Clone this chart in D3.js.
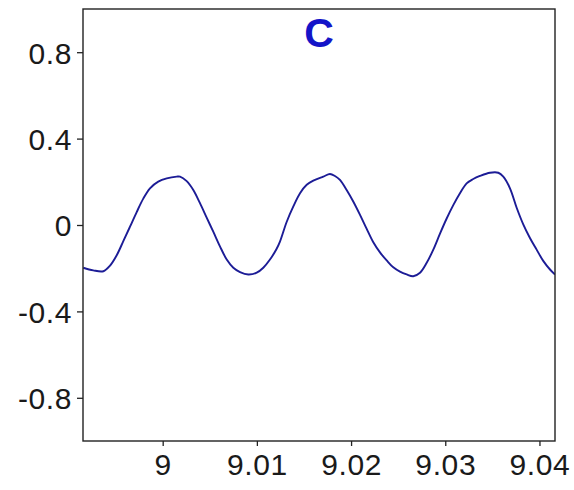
<!DOCTYPE html>
<html>
<head>
<meta charset="utf-8">
<script src="https://cdn.jsdelivr.net/npm/d3@7"></script>
<style>
  html, body { margin: 0; padding: 0; background: #fff; }
  svg { display: block; }
  text { font-family: "Liberation Sans", Arial, sans-serif; }
</style>
</head>
<body>
<svg id="chart" width="574" height="490"></svg>
<script>
// ---- data ----
const title = "C";
const xValues = [
  8.99157, 8.99263, 8.99370, 8.99441, 8.99512, 8.99582, 8.99653, 8.99724, 8.99794, 8.99865,
  8.99953, 9.00043, 9.00149, 9.00184, 9.00255, 9.00325, 9.00396, 9.00467, 9.00537, 9.00608,
  9.00680, 9.00750, 9.00821, 9.00909, 9.00998, 9.01068, 9.01139, 9.01210, 9.01245, 9.01316,
  9.01387, 9.01458, 9.01529, 9.01599, 9.01705, 9.01776, 9.01829, 9.01882, 9.01953, 9.02023,
  9.02095, 9.02166, 9.02236, 9.02307, 9.02378, 9.02448, 9.02519, 9.02590, 9.02660, 9.02732,
  9.02803, 9.02873, 9.02944, 9.03015, 9.03085, 9.03156, 9.03227, 9.03297, 9.03368, 9.03475,
  9.03563, 9.03616, 9.03687, 9.03758, 9.03828, 9.03899, 9.03970, 9.04040, 9.04112, 9.04165
];
const yValues = [
  -0.198, -0.210, -0.214, -0.188, -0.140, -0.075, -0.008, 0.060, 0.122, 0.170,
  0.201, 0.216, 0.224, 0.224, 0.203, 0.162, 0.101, 0.034, -0.031, -0.099,
  -0.160, -0.198, -0.218, -0.229, -0.221, -0.198, -0.160, -0.110, -0.077, 0.014,
  0.086, 0.147, 0.186, 0.205, 0.224, 0.236, 0.227, 0.209, 0.162, 0.109,
  0.047, -0.018, -0.080, -0.127, -0.164, -0.196, -0.216, -0.229, -0.237, -0.221,
  -0.175, -0.114, -0.040, 0.030, 0.092, 0.147, 0.193, 0.213, 0.227, 0.242,
  0.242, 0.224, 0.170, 0.080, 0.003, -0.060, -0.114, -0.166, -0.206, -0.229
];
const xTicks = [9, 9.01, 9.02, 9.03, 9.04];
const xTickLabels = ["9", "9.01", "9.02", "9.03", "9.04"];
const yTicks = [0.8, 0.4, 0, -0.4, -0.8];
const yTickLabels = ["0.8", "0.4", "0", "-0.4", "-0.8"];
const xDomain = [8.99154, 9.04165];
const yDomain = [-1, 1];

// ---- layout ----
const mLeft = 83, mRight = 555, mTop = 9, mBottom = 441;
const svg = d3.select("#chart");

const x = d3.scaleLinear().domain(xDomain).range([mLeft, mRight]);
const y = d3.scaleLinear().domain(yDomain).range([mBottom, mTop]);

const data = xValues.map((v, i) => ({ x: v, y: yValues[i] }));

// clip
svg.append("defs").append("clipPath").attr("id", "clip")
  .append("rect").attr("x", mLeft).attr("y", mTop)
  .attr("width", mRight - mLeft).attr("height", mBottom - mTop);

// line
const line = d3.line().x(d => x(d.x)).y(d => y(d.y)).curve(d3.curveCatmullRom.alpha(0.5));
svg.append("path")
  .datum(data)
  .attr("clip-path", "url(#clip)")
  .attr("fill", "none")
  .attr("stroke", "#1c1c96")
  .attr("stroke-width", 1.9)
  .attr("stroke-linejoin", "round")
  .attr("d", line);

// axes
const xAxis = d3.axisBottom(x).tickValues(xTicks)
  .tickFormat((d, i) => xTickLabels[i]).tickSize(5).tickSizeOuter(0).tickPadding(8);
const yAxis = d3.axisLeft(y).tickValues(yTicks)
  .tickFormat((d, i) => yTickLabels[i]).tickSize(6).tickSizeOuter(0).tickPadding(5);

const gx = svg.append("g").attr("transform", `translate(0,${mBottom})`).call(xAxis);
const gy = svg.append("g").attr("transform", `translate(${mLeft},0)`).call(yAxis);
[gx, gy].forEach(g => {
  g.select(".domain").remove();
  g.selectAll(".tick line").attr("stroke", "#222").attr("stroke-width", 1.3);
  g.selectAll(".tick text").attr("fill", "#1a1a1a")
    .style("font-size", "30px").style("letter-spacing", "0.6px")
    .style("font-family", "'Liberation Sans', Arial, sans-serif");
});
gy.selectAll(".tick text").attr("dy", "0.36em");
gx.selectAll(".tick text").attr("dy", "0.70em");

// frame
svg.append("rect")
  .attr("x", mLeft).attr("y", mTop)
  .attr("width", mRight - mLeft).attr("height", mBottom - mTop)
  .attr("fill", "none").attr("stroke", "#222").attr("stroke-width", 1.4);

// title
svg.append("text")
  .attr("x", (mLeft + mRight) / 2)
  .attr("y", 47)
  .attr("text-anchor", "middle")
  .attr("fill", "#1414c8")
  .style("font-size", "41px")
  .style("font-weight", "bold")
  .text(title);
</script>
</body>
</html>
